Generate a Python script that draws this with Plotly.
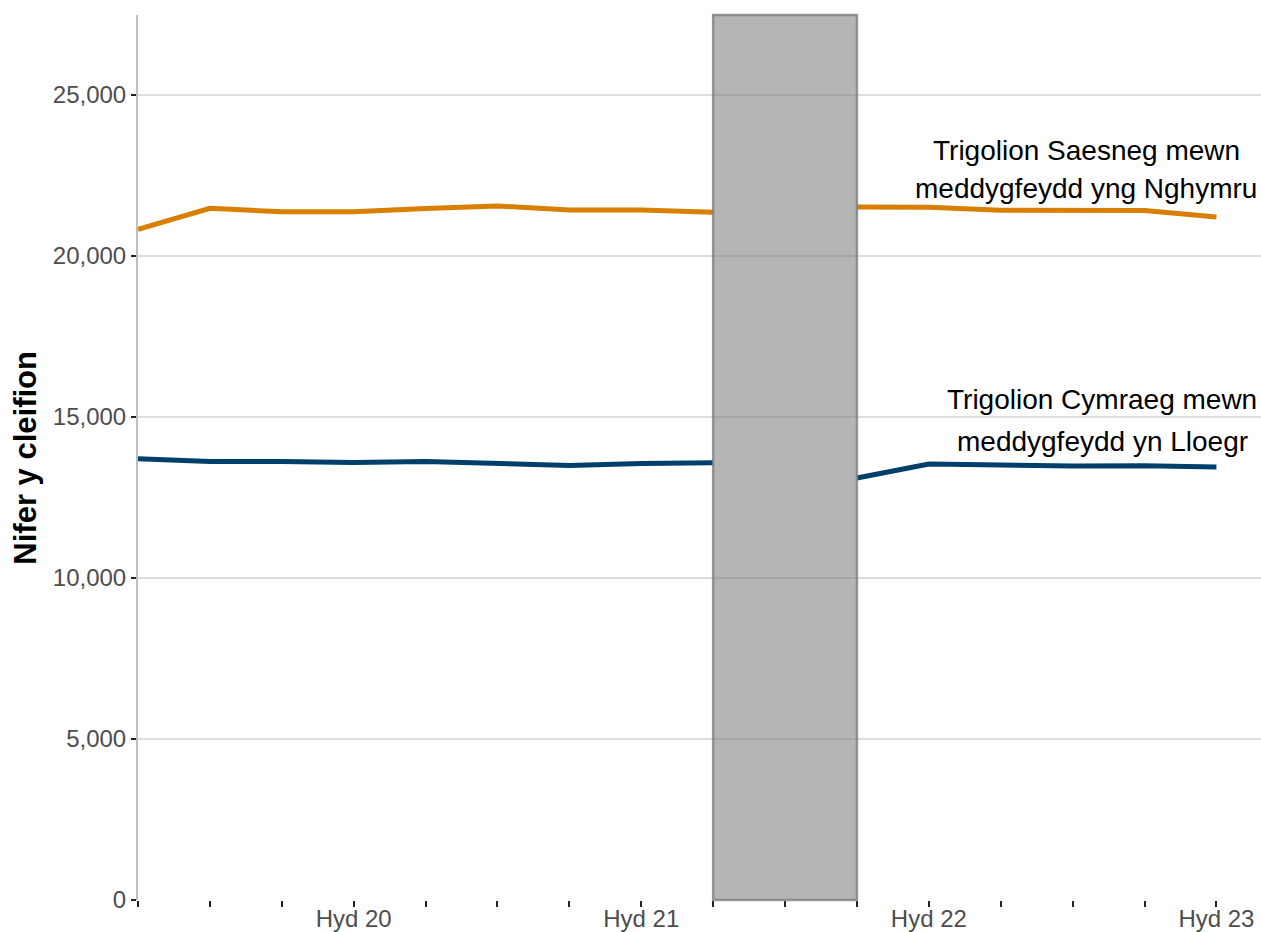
import plotly.graph_objects as go

# Quarterly periods (Welsh month abbreviations)
quarters = ["Ion 20", "Ebr 20", "Gor 20", "Hyd 20",
            "Ion 21", "Ebr 21", "Gor 21", "Hyd 21",
            "Ion 22", "Ebr 22", "Gor 22", "Hyd 22",
            "Ion 23", "Ebr 23", "Gor 23", "Hyd 23"]
tick_labels = [q if q.startswith("Hyd") else "" for q in quarters]

english_in_wales = [20820, 21470, 21360, 21360, 21460, 21540, 21420, 21420,
                    21350, None, 21510, 21500, 21410, 21400, 21400, 21200]
welsh_in_england = [13700, 13610, 13610, 13580, 13610, 13560, 13490, 13550,
                    13570, None, 13100, 13530, 13500, 13470, 13480, 13440]

y_ticks = [0, 5000, 10000, 15000, 20000, 25000]
y_tick_labels = ["0", "5,000", "10,000", "15,000", "20,000", "25,000"]

label_english = ["Trigolion Saesneg mewn", "meddygfeydd yng Nghymru"]
label_welsh = ["Trigolion Cymraeg mewn", "meddygfeydd yn Lloegr"]

gap_start, gap_end = quarters.index("Ion 22"), quarters.index("Gor 22")

x = list(range(len(quarters)))
FONT = "Liberation Sans, Arial, sans-serif"

fig = go.Figure()
fig.add_trace(go.Scatter(x=x, y=english_in_wales, mode="lines",
                         line=dict(color="#d97f00", width=5), connectgaps=False,
                         showlegend=False, hoverinfo="skip"))
fig.add_trace(go.Scatter(x=x, y=welsh_in_england, mode="lines",
                         line=dict(color="#003f6b", width=5), connectgaps=False,
                         showlegend=False, hoverinfo="skip"))

fig.add_shape(type="rect", xref="x", yref="paper", x0=gap_start, x1=gap_end,
              y0=0, y1=1, layer="above",
              fillcolor="rgba(127,127,127,0.58)",
              line=dict(color="rgba(127,127,127,0.8)", width=2.5))

for i, t in enumerate(label_english):
    fig.add_annotation(x=13.19, y=[23260, 22080][i], text=t, showarrow=False,
                       xanchor="center", yanchor="middle",
                       font=dict(family=FONT, size=28, color="#000000"))
for i, t in enumerate(label_welsh):
    fig.add_annotation(x=13.41, y=[15520, 14240][i], text=t, showarrow=False,
                       xanchor="center", yanchor="middle",
                       font=dict(family=FONT, size=28, color="#000000"))

fig.add_annotation(xref="paper", yref="paper", x=-0.1005, y=0.5,
                   text="<b>Nifer y cleifion</b>", textangle=-90, showarrow=False,
                   xanchor="center", yanchor="middle",
                   font=dict(family=FONT, size=31, color="#000000"))

fig.update_xaxes(range=[0, 15.62], tickvals=x, ticktext=tick_labels,
                 showgrid=False, zeroline=False, showline=False, automargin=False,
                 ticks="outside", ticklen=6, tickwidth=2, tickcolor="#222222",
                 ticklabelstandoff=-9,
                 tickfont=dict(family=FONT, size=24, color="#4d4d4d"))
fig.update_yaxes(range=[0, 27470], tickvals=y_ticks, ticktext=y_tick_labels,
                 showgrid=True, gridcolor="#dcdcdc", gridwidth=2, automargin=False,
                 zeroline=False, showline=True, linecolor="#bebebe", linewidth=2,
                 ticks="outside", ticklen=5, tickwidth=2, tickcolor="#222222",
                 tickfont=dict(family=FONT, size=24, color="#4d4d4d"))

fig.update_layout(width=1261, height=932,
                  margin=dict(l=138, r=0, t=15, b=32),
                  plot_bgcolor="white", paper_bgcolor="white")

fig.write_html("out.html", config={"displayModeBar": False},
               post_script="document.body.style.margin='0';"
                           "document.body.style.overflow='hidden';")
